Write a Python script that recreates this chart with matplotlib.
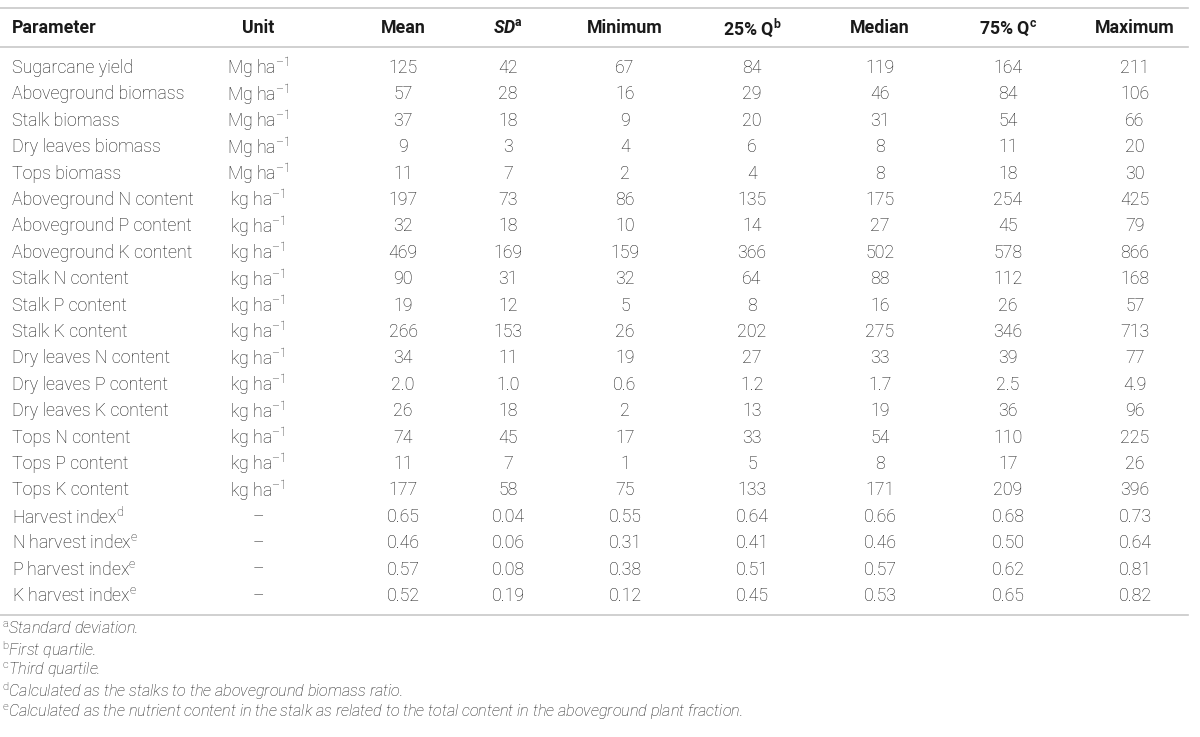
import matplotlib
matplotlib.use('Agg')
import matplotlib.pyplot as plt

# table content
header = ['Parameter', 'Unit', 'Mean', r'SD$^{\mathbf{a}}$', 'Minimum',
          r'25% Q$^{\mathbf{b}}$', 'Median', r'75% Q$^{\mathbf{c}}$', 'Maximum']

parameters = ['Sugarcane yield', 'Aboveground biomass', 'Stalk biomass',
              'Dry leaves biomass', 'Tops biomass', 'Aboveground N content',
              'Aboveground P content', 'Aboveground K content', 'Stalk N content',
              'Stalk P content', 'Stalk K content', 'Dry leaves N content',
              'Dry leaves P content', 'Dry leaves K content', 'Tops N content',
              'Tops P content', 'Tops K content', r'Harvest index$^{\mathrm{d}}$',
              r'N harvest index$^{\mathrm{e}}$', r'P harvest index$^{\mathrm{e}}$',
              r'K harvest index$^{\mathrm{e}}$']

mg = r'Mg ha$^{\mathrm{–1}}$'
kg = r'kg ha$^{\mathrm{–1}}$'
units = [mg] * 5 + [kg] * 12 + ['–'] * 4

mean = ['125', '57', '37', '9', '11', '197', '32', '469', '90', '19', '266', '34',
        '2.0', '26', '74', '11', '177', '0.65', '0.46', '0.57', '0.52']
sd = ['42', '28', '18', '3', '7', '73', '18', '169', '31', '12', '153', '11',
      '1.0', '18', '45', '7', '58', '0.04', '0.06', '0.08', '0.19']
minimum = ['67', '16', '9', '4', '2', '86', '10', '159', '32', '5', '26', '19',
           '0.6', '2', '17', '1', '75', '0.55', '0.31', '0.38', '0.12']
q25 = ['84', '29', '20', '6', '4', '135', '14', '366', '64', '8', '202', '27',
       '1.2', '13', '33', '5', '133', '0.64', '0.41', '0.51', '0.45']
median = ['119', '46', '31', '8', '8', '175', '27', '502', '88', '16', '275', '33',
          '1.7', '19', '54', '8', '171', '0.66', '0.46', '0.57', '0.53']
q75 = ['164', '84', '54', '11', '18', '254', '45', '578', '112', '26', '346', '39',
       '2.5', '36', '110', '17', '209', '0.68', '0.50', '0.62', '0.65']
maximum = ['211', '106', '66', '20', '30', '425', '79', '866', '168', '57', '713', '77',
           '4.9', '96', '225', '26', '396', '0.73', '0.64', '0.81', '0.82']

footnotes = [r'$^{\mathrm{a}}$Standard deviation.',
             r'$^{\mathrm{b}}$First quartile.',
             r'$^{\mathrm{c}}$Third quartile.',
             r'$^{\mathrm{d}}$Calculated as the stalks to the aboveground biomass ratio.',
             r'$^{\mathrm{e}}$Calculated as the nutrient content in the stalk as related '
             r'to the total content in the aboveground plant fraction.']

plt.rcParams['font.family'] = ['Roboto', 'DejaVu Sans']
plt.rcParams['mathtext.fontset'] = 'custom'
plt.rcParams['mathtext.rm'] = 'Roboto:light'
plt.rcParams['mathtext.it'] = 'Roboto:italic:light'
plt.rcParams['mathtext.bf'] = 'Roboto:bold'

txt = '#1a1a1a'
line_col = '#c8c8c8'
fs = 12.8

fig = plt.figure(figsize=(12, 7.37), dpi=100)
ax = fig.add_axes([0, 0, 1, 1])
ax.set_xlim(0, 1200)
ax.set_ylim(737, 0)
ax.axis('off')

col_x = [12, 258, 403, 508, 625, 752, 880, 1008, 1135]

# rules
for y in [8, 47, 615]:
    ax.plot([0, 1188], [y, y], color=line_col, lw=1.2)

# header
for i, h in enumerate(header):
    ha = 'left' if i == 0 else 'center'
    style = 'italic' if i == 3 else 'normal'
    ax.text(col_x[i], 28, h, ha=ha, va='center', fontsize=fs, fontweight='bold',
            fontstyle=style, color=txt)

columns = [parameters, units, mean, sd, minimum, q25, median, q75, maximum]
row_y0, row_dy = 68, 26.4
for r in range(len(parameters)):
    y = row_y0 + r * row_dy
    for c, col in enumerate(columns):
        ha = 'left' if c == 0 else 'center'
        ax.text(col_x[c], y, col[r], ha=ha, va='center', fontsize=fs,
                fontweight='light', color=txt)

for k, note in enumerate(footnotes):
    ax.text(2, 629 + k * 20.75, note, ha='left', va='center', fontsize=11.6,
            fontweight='light', fontstyle='italic', color=txt)

fig.savefig('out.png', dpi=100)
